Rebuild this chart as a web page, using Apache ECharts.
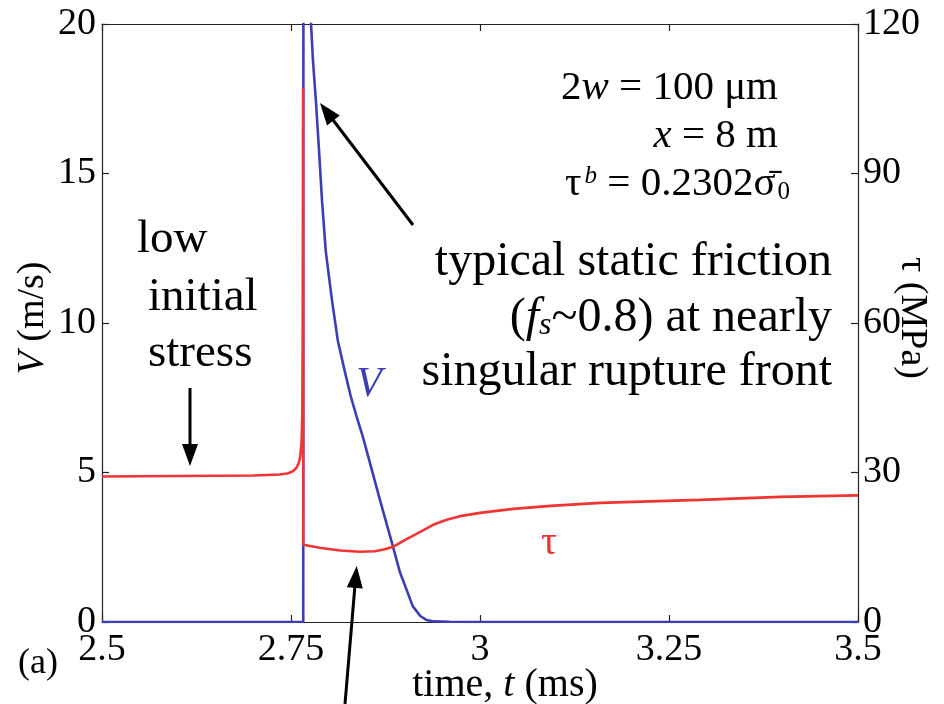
<!DOCTYPE html>
<html>
<head>
<meta charset="utf-8">
<script src="https://cdn.jsdelivr.net/npm/echarts@6/dist/echarts.min.js"></script>
<style>html,body{margin:0;padding:0;background:#fff}#c{width:944px;height:704px}</style>
</head>
<body>
<div id="c"></div>
<script>
// ---- data ----
var timeTicks = [2.5, 2.75, 3, 3.25, 3.5];
var vTicks = [0, 5, 10, 15, 20];
var tauTicks = [0, 30, 60, 90, 120];

// slip velocity V (m/s)
var vTime = [2.5, 2.6, 2.7, 2.7662, 2.7668, 2.769, 2.772, 2.7765, 2.779, 2.783, 2.787, 2.791, 2.796, 2.804, 2.812, 2.821, 2.829, 2.837, 2.845, 2.852, 2.868, 2.885, 2.894, 2.903, 2.911, 2.921, 2.929, 2.939, 2.96, 3.0, 3.25, 3.5];
var vVal  = [0, 0, 0, 0, 60, 35, 25, 20, 18.8, 17.4, 15.8, 14.1, 12.4, 10.8, 9.4, 8.4, 7.55, 6.85, 6.2, 5.55, 4.05, 2.51, 1.67, 1.07, 0.53, 0.2, 0.07, 0.02, 0.01, 0, 0, 0];

// shear stress tau (MPa)
var tauTime = [2.5, 2.6, 2.7, 2.735, 2.745, 2.752, 2.757, 2.760, 2.762, 2.764, 2.765, 2.7655, 2.766, 2.7662, 2.788, 2.815, 2.841, 2.861, 2.874, 2.885, 2.901, 2.921, 2.938, 2.956, 2.976, 3.0, 3.044, 3.093, 3.159, 3.291, 3.397, 3.5];
var tauVal  = [29.2, 29.3, 29.4, 29.6, 29.8, 30.2, 30.9, 31.8, 33.0, 36.0, 42.0, 60.0, 107.2, 15.5, 14.9, 14.35, 14.1, 14.2, 14.6, 15.1, 16.5, 18.1, 19.5, 20.5, 21.3, 21.9, 22.7, 23.3, 23.9, 24.5, 25.1, 25.4];

// ---- chart ----
var FF = 'Liberation Serif';
var BLUE = '#3d3db4', RED = '#f03434', AX = '#222';
function pairs(a, b) { return a.map(function (x, i) { return [x, b[i]]; }); }

var chart = echarts.init(document.getElementById('c'), null, {renderer: 'canvas'});

function axisCommon(min, max, step, labels) {
  return {
    type: 'value', min: min, max: max, interval: step,
    axisLine: {show: true, onZero: false, lineStyle: {color: AX, width: 1.2}},
    axisTick: {show: true, inside: true, length: 7, lineStyle: {color: AX, width: 1.2}},
    splitLine: {show: false},
    axisLabel: labels ? {show: true, color: '#000', fontFamily: FF, fontSize: 38, showMinLabel: true, showMaxLabel: true} : {show: false}
  };
}

var xB = axisCommon(timeTicks[0], timeTicks[timeTicks.length - 1], timeTicks[1] - timeTicks[0], true);
xB.position = 'bottom'; xB.axisLabel.margin = 9;
var xT = axisCommon(timeTicks[0], timeTicks[timeTicks.length - 1], timeTicks[1] - timeTicks[0], false);
xT.position = 'top';
var yL = axisCommon(vTicks[0], vTicks[vTicks.length - 1], vTicks[1] - vTicks[0], true);
yL.position = 'left'; yL.axisLabel.margin = 6;
var yR = axisCommon(tauTicks[0], tauTicks[tauTicks.length - 1], tauTicks[1] - tauTicks[0], true);
yR.position = 'right'; yR.axisLabel.margin = 5;

function mkRich(size) {
  return {
    n: {fontFamily: FF, fontSize: size, fontStyle: 'normal'},
    it: {fontStyle: 'italic', fontFamily: FF, fontSize: size},
    sup: {fontStyle: 'italic', fontFamily: FF, fontSize: Math.round(size * 0.62), verticalAlign: 'top', padding: [0, 0, 14, 3]},
    sub: {fontFamily: FF, fontSize: Math.round(size * 0.62), verticalAlign: 'bottom', padding: [14, 0, 0, 2]},
    subi: {fontStyle: 'italic', fontFamily: FF, fontSize: Math.round(size * 0.66), verticalAlign: 'bottom', padding: [16, 0, 0, 0]}
  };
}

function txt(x, y, text, size, opts) {
  opts = opts || {};
  return {
    type: 'text', x: x, y: y, rotation: opts.rot || 0, z: 100,
    style: {
      text: text, fill: opts.color || '#000',
      fontSize: size, fontFamily: FF, fontStyle: opts.italic ? 'italic' : 'normal',
      align: opts.align || 'left', verticalAlign: opts.va || 'middle',
      rich: opts.rich ? mkRich(size) : undefined
    }
  };
}
function line(x1, y1, x2, y2) {
  return {type: 'line', z: 100, shape: {x1: x1, y1: y1, x2: x2, y2: y2}, style: {stroke: '#000', lineWidth: 3}};
}
function head(pts) {
  return {type: 'polygon', z: 100, shape: {points: pts}, style: {fill: '#000'}};
}

chart.setOption({
  animation: false,
  backgroundColor: '#fff',
  grid: {left: 102, right: 86, top: 24, bottom: 82, containLabel: false},
  xAxis: [xB, xT],
  yAxis: [yL, yR],
  series: [
    {type: 'line', xAxisIndex: 0, yAxisIndex: 0, data: pairs(vTime, vVal), showSymbol: false, symbol: 'none', clip: true,
     lineStyle: {color: BLUE, width: 2.6}, z: 2},
    {type: 'line', xAxisIndex: 0, yAxisIndex: 1, data: pairs(tauTime, tauVal), showSymbol: false, symbol: 'none', clip: true,
     lineStyle: {color: RED, width: 2.6}, z: 3}
  ],
  graphic: [
    // axis titles
    txt(33, 318, '{it|V}{n| (m/s)}', 38, {rot: Math.PI / 2, align: 'center', rich: true}),
    txt(912, 318, 'τ (MPa)', 38, {rot: -Math.PI / 2, align: 'center'}),
    txt(505, 685, '{n|time, }{it|t}{n| (ms)}', 40, {align: 'center', rich: true}),
    txt(18, 664, '(a)', 36),
    // parameters
    txt(778, 88, '{n|2}{it|w}{n| = 100 μm}', 41, {align: 'right', rich: true}),
    txt(778, 136, '{it|x}{n| = 8 m}', 41, {align: 'right', rich: true}),
    txt(790, 184, '{n|τ}{sup|b}{n| = 0.2302σ\u0304}{sub|0}', 41, {align: 'right', rich: true}),
    // annotations
    txt(832, 262, 'typical static friction', 48, {align: 'right'}),
    txt(832, 318, '{n|(}{it|f}{subi|s}{n|~0.8) at nearly}', 48, {align: 'right', rich: true}),
    txt(832, 372, 'singular rupture front', 48, {align: 'right'}),
    txt(137, 240, 'low', 47),
    txt(148, 298, 'initial', 47),
    txt(148, 354, 'stress', 47),
    txt(369, 385, 'V', 42, {italic: true, color: BLUE, align: 'center'}),
    txt(549, 543, 'τ', 40, {color: RED, align: 'center'}),
    // arrows
    line(190, 388, 190, 446),
    head([[190, 466], [182, 444], [198, 444]]),
    line(413, 225, 330, 116),
    head([[320, 103], [339.8, 115.6], [327, 125.4]]),
    line(345, 704, 355, 585),
    head([[356.7, 566], [362.8, 588.6], [346.8, 587.2]])
  ]
});
</script>
</body>
</html>
